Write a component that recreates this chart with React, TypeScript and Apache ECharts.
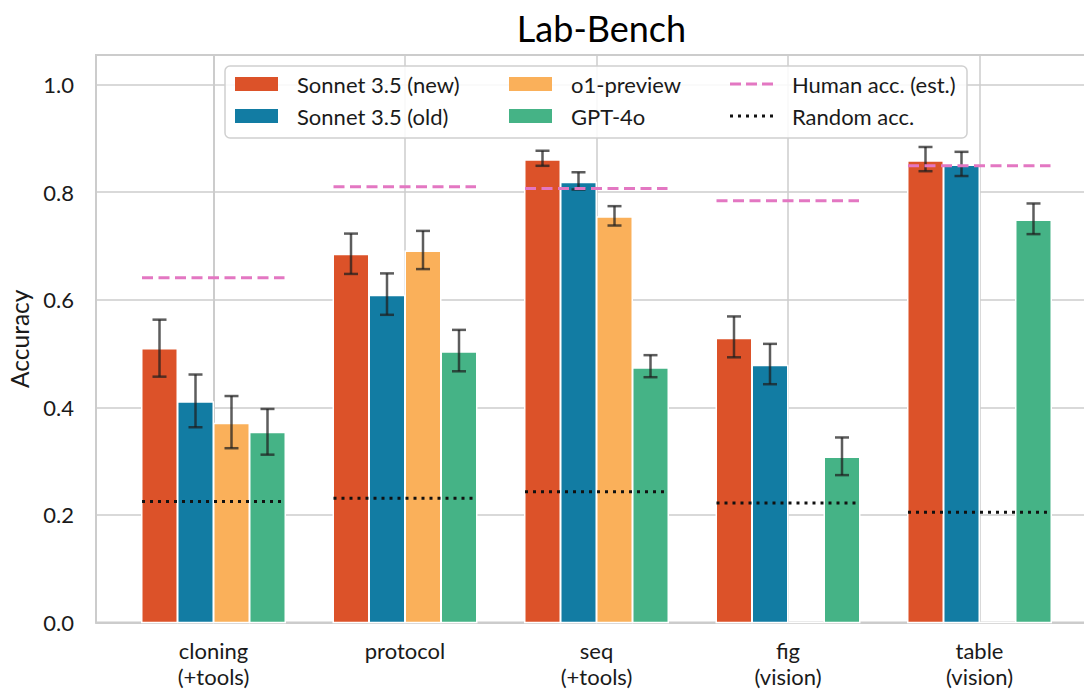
import React, { useEffect, useRef } from 'react';
import * as echarts from 'echarts';

// ---- Data ----
const categories = ['cloning\n(+tools)', 'protocol', 'seq\n(+tools)', 'fig\n(vision)', 'table\n(vision)'];
const categoryIndex = [0, 1, 2, 3, 4];
const yTicks = [0, 0.2, 0.4, 0.6, 0.8, 1.0];

const sonnetNew = [0.509, 0.684, 0.860, 0.528, 0.858];
const sonnetNewLow = [0.457, 0.648, 0.849, 0.493, 0.839];
const sonnetNewHigh = [0.563, 0.723, 0.877, 0.569, 0.884];

const sonnetOld = [0.410, 0.608, 0.818, 0.478, 0.850];
const sonnetOldLow = [0.363, 0.572, 0.805, 0.443, 0.830];
const sonnetOldHigh = [0.461, 0.649, 0.837, 0.518, 0.875];

const o1Preview = [0.370, 0.690, 0.754, 0, 0];
const o1PreviewLow = [0.324, 0.657, 0.738, null, null];
const o1PreviewHigh = [0.421, 0.728, 0.774, null, null];

const gpt4o = [0.353, 0.503, 0.473, 0.307, 0.748];
const gpt4oLow = [0.312, 0.467, 0.456, 0.274, 0.722];
const gpt4oHigh = [0.397, 0.544, 0.497, 0.344, 0.779];

const humanAcc = [0.641, 0.810, 0.807, 0.784, 0.849];
const randomAcc = [0.225, 0.231, 0.243, 0.222, 0.205];

const COLORS = ['#DC5229', '#127CA3', '#FAB05A', '#45B386'];
const HUMAN_COLOR = '#E377C2';
const RANDOM_COLOR = '#111111';
const FONT = 'Lato, "DejaVu Sans", sans-serif';
const TEXT = '#1a1a1a';
const GRID = '#cccccc';

const PITCH = 36;

function barSeries(name: string, values: number[], lows: (number | null)[], highs: (number | null)[], color: string, slot: number) {
  const offset = (slot - 1.5) * PITCH;
  return {
    type: 'custom',
    name,
    z: 2,
    itemStyle: { color },
    data: values.map((v, i) => [categoryIndex[i], v]),
    encode: { x: 0, y: 1 },
    renderItem: (params: any, api: any) => {
      const i = api.value(0);
      const v = api.value(1);
      const base = api.coord([i, 0]);
      const top = api.coord([i, v]);
      const cx = base[0] + offset;
      const children: any[] = [
        {
          type: 'rect',
          shape: { x: cx - 17.75, y: top[1], width: 35.5, height: base[1] - top[1] },
          style: { fill: color, stroke: '#ffffff', lineWidth: 1.5 },
        },
      ];
      const lo = lows[params.dataIndex];
      const hi = highs[params.dataIndex];
      if (lo != null && hi != null) {
        const pl = api.coord([i, lo])[1];
        const ph = api.coord([i, hi])[1];
        const st = { stroke: 'rgba(30,30,30,0.72)', lineWidth: 2.5 };
        children.push({ type: 'line', shape: { x1: cx, y1: pl, x2: cx, y2: ph }, style: st });
        children.push({ type: 'line', shape: { x1: cx - 7, y1: pl, x2: cx + 7, y2: pl }, style: st });
        children.push({ type: 'line', shape: { x1: cx - 7, y1: ph, x2: cx + 7, y2: ph }, style: st });
      }
      return { type: 'group', children };
    },
  };
}

function refSeries(name: string, values: number[], color: string, dash: number[], z: number) {
  return {
    type: 'custom',
    name,
    z,
    itemStyle: { color },
    data: values.map((v, i) => [categoryIndex[i], v]),
    encode: { x: 0, y: 1 },
    renderItem: (params: any, api: any) => {
      const p = api.coord([api.value(0), api.value(1)]);
      return {
        type: 'line',
        shape: { x1: p[0] - 71.5, y1: p[1], x2: p[0] + 71, y2: p[1] },
        style: { stroke: color, lineWidth: 3, lineDash: dash },
      };
    },
  };
}

const DASH_ICON = 'path://M0,0h11v3H0z M16,0h11v3h-11z M32,0h11v3h-11z';
const DOT_ICON = 'path://M0,0h3v3H0z M8,0h3v3H8z M16,0h3v3h-3z M24,0h3v3h-3z M32,0h3v3h-3z M40,0h3v3h-3z';

export default function App() {
  const ref = useRef<HTMLDivElement>(null);
  useEffect(() => {
    if (!ref.current) return;
    const chart = echarts.init(ref.current, null, { renderer: 'svg' });
    const legendText = { fontFamily: FONT, fontSize: 22, color: TEXT, lineHeight: 22, padding: [0, 0, 0, 14] };
    const legendCommon = {
      orient: 'vertical',
      top: 68,
      itemWidth: 43,
      itemHeight: 14,
      itemGap: 10,
      textStyle: legendText,
      selectedMode: false,
      z: 5,
    };
    chart.setOption({
      animation: false,
      backgroundColor: '#ffffff',
      title: {
        text: 'Lab-Bench',
        left: 596.5,
        textAlign: 'center',
        top: 5,
        textStyle: { fontFamily: FONT, fontSize: 36, fontWeight: 'normal', color: '#000' },
      },
      legend: [
        { ...legendCommon, left: 230, data: [{ name: 'Sonnet 3.5 (new)', icon: 'rect' }, { name: 'Sonnet 3.5 (old)', icon: 'rect' }] },
        { ...legendCommon, left: 504, data: [{ name: 'o1-preview', icon: 'rect' }, { name: 'GPT-4o', icon: 'rect' }] },
        { ...legendCommon, left: 725, itemHeight: 3, data: [{ name: 'Human acc. (est.)', icon: DASH_ICON }, { name: 'Random acc.', icon: DOT_ICON }] },
      ],
      graphic: [
        {
          type: 'rect',
          z: 4,
          shape: { x: 225, y: 66, width: 742, height: 72, r: 5 },
          style: { fill: 'rgba(255,255,255,0.85)', stroke: '#d0d0d0', lineWidth: 1.5 },
        },
      ],
      grid: {
        left: 96,
        width: 1001,
        top: 55,
        height: 567.5,
        show: true,
        borderColor: GRID,
        borderWidth: 2,
        containLabel: false,
        outerBoundsMode: 'none',
      },
      xAxis: {
        type: 'value',
        min: -0.6136,
        max: 4.6136,
        axisLine: { show: true, lineStyle: { color: GRID, width: 2 } },
        axisTick: { show: false, customValues: categoryIndex },
        splitLine: { show: true, lineStyle: { color: GRID, width: 1.5 } },
        axisLabel: {
          customValues: categoryIndex,
          formatter: (v: number) => categories[Math.round(v)],
          margin: 15,
          fontFamily: FONT,
          fontSize: 22,
          lineHeight: 26,
          color: TEXT,
        },
      },
      yAxis: {
        type: 'value',
        min: 0,
        max: 1.055,
        interval: 0.2,
        name: 'Accuracy',
        nameLocation: 'middle',
        nameGap: 64,
        nameTextStyle: { fontFamily: FONT, fontSize: 24.5, color: TEXT },
        axisLine: { show: true, lineStyle: { color: GRID, width: 2 } },
        axisTick: { show: false },
        splitLine: { show: true, lineStyle: { color: GRID, width: 1.5 } },
        axisLabel: {
          showMaxLabel: false,
          margin: 22,
          fontFamily: FONT,
          fontSize: 22,
          color: TEXT,
          formatter: (v: number) => (yTicks.includes(Math.round(v * 10) / 10) ? v.toFixed(1) : ''),
        },
      },
      series: [
        barSeries('Sonnet 3.5 (new)', sonnetNew, sonnetNewLow, sonnetNewHigh, COLORS[0], 0),
        barSeries('Sonnet 3.5 (old)', sonnetOld, sonnetOldLow, sonnetOldHigh, COLORS[1], 1),
        barSeries('o1-preview', o1Preview, o1PreviewLow, o1PreviewHigh, COLORS[2], 2),
        barSeries('GPT-4o', gpt4o, gpt4oLow, gpt4oHigh, COLORS[3], 3),
        refSeries('Human acc. (est.)', humanAcc, HUMAN_COLOR, [11, 5.5], 3),
        refSeries('Random acc.', randomAcc, RANDOM_COLOR, [3, 5], 3),
      ],
    });
    return () => chart.dispose();
  }, []);
  return <div ref={ref} style={{ position: 'absolute', left: 0, top: 0, width: 1084, height: 690 }} />;
}
